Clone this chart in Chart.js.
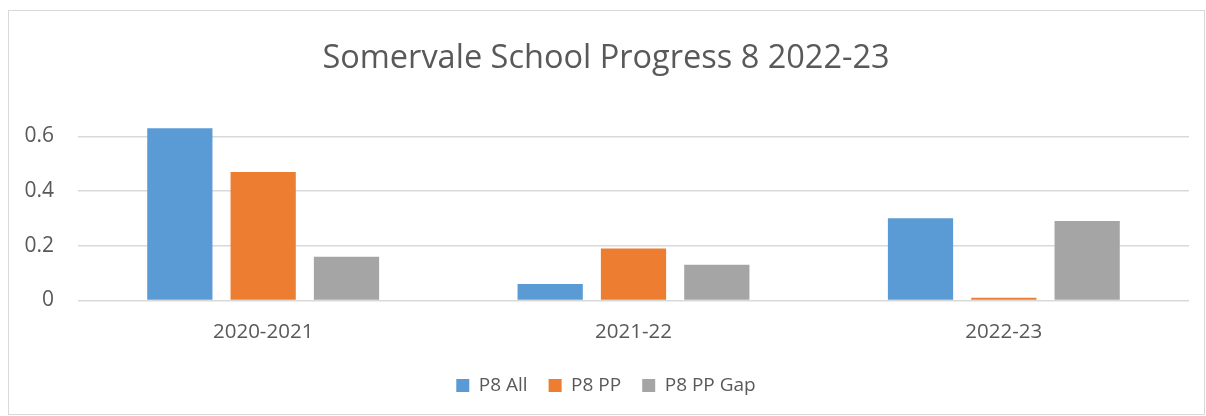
<!DOCTYPE html>
<html>
<head>
<meta charset="utf-8">
<script src="https://cdn.jsdelivr.net/npm/chart.js@4/dist/chart.umd.min.js"></script>
<style>
  html, body { margin: 0; padding: 0; background: #ffffff; }
  #frame { position: absolute; left: 8px; top: 10px; width: 1197px; height: 405px; border: 1px solid #d9d9d9; box-sizing: border-box; background: #fff; }
  #frame canvas { display: block; }
</style>
</head>
<body>
<div id="frame"><canvas id="c"></canvas></div>
<script>
const categories = ["2020-2021", "2021-22", "2022-23"];
const p8All = [0.63, 0.06, 0.30];
const p8PP = [0.47, 0.19, 0.01];
const p8PPGap = [0.16, 0.13, 0.29];
const yTicks = [0, 0.2, 0.4, 0.6];
const seriesNames = ["P8 All", "P8 PP", "P8 PP Gap"];
const colors = ["#5B9BD5", "#ED7D31", "#A5A5A5"];

const FONT = "'Open Sans', 'Noto Sans', sans-serif";
const TEXT = "#595959";

new Chart(document.getElementById('c'), {
  type: 'bar',
  data: {
    labels: categories,
    datasets: [p8All, p8PP, p8PPGap].map((d, i) => ({
      label: seriesNames[i],
      data: d,
      backgroundColor: colors[i],
      borderWidth: 0,
      categoryPercentage: 0.675,
      barPercentage: 0.783
    }))
  },
  options: {
    responsive: true,
    maintainAspectRatio: false,
    animation: false,
    layout: { padding: { left: 14, right: 15, top: 16, bottom: 9 } },
    plugins: {
      title: {
        display: true,
        text: "Somervale School Progress 8 2022-23",
        color: TEXT,
        font: { family: FONT, size: 32.5, weight: 'normal' },
        padding: { top: 12, bottom: 31 }
      },
      legend: {
        position: 'bottom',
        labels: {
          color: TEXT,
          font: { family: FONT, size: 19 },
          boxWidth: 13,
          boxHeight: 13,
          padding: 21
        }
      },
      tooltip: { enabled: false }
    },
    scales: {
      x: {
        grid: { display: false },
        border: { display: false },
        ticks: { color: TEXT, font: { family: FONT, size: 20.5 }, padding: 11 }
      },
      y: {
        min: 0,
        max: 0.7,
        afterBuildTicks: (axis) => { axis.ticks = yTicks.map(v => ({ value: v })); },
        afterFit: (axis) => { axis.width = 55; },
        grid: { color: "#d9d9d9", lineWidth: 1.5, drawTicks: false },
        border: { display: false },
        ticks: { color: TEXT, font: { family: FONT, size: 21 }, padding: 24 }
      }
    }
  }
});
</script>
</body>
</html>
